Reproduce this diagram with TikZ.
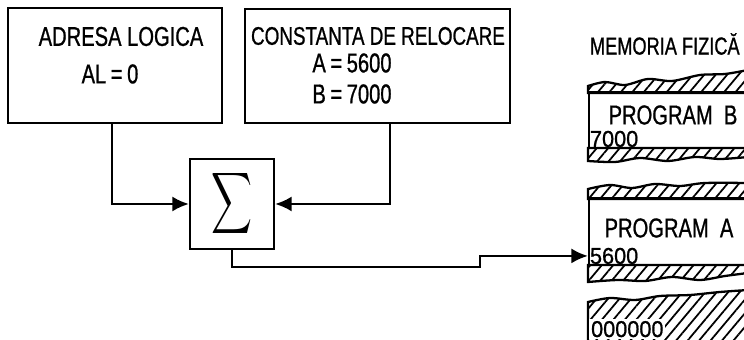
\documentclass[tikz,border=0pt]{standalone}
\usepackage{fontspec}
\usepackage{graphicx}
\setmainfont[FakeStretch=0.74,FakeBold=0.8]{Liberation Sans}
\newfontfamily\digitfont[FakeStretch=0.95,FakeBold=0.8]{Liberation Sans}
\usetikzlibrary{arrows.meta,patterns.meta}

\begin{document}
\begin{tikzpicture}[
  x=0.02cm, y=-0.02cm,
  box/.style={rectangle,draw,line width=1.3pt,inner sep=0pt},
  memblock/.style={rectangle,draw,line width=1.3pt,inner sep=0pt,minimum width=3.16cm},
  txt/.style={inner sep=0pt,font=\fontsize{15.5}{18}\selectfont},
  addr/.style={inner sep=1pt,font=\digitfont\fontsize{13}{15}\selectfont},
  hatch/.style={draw,line width=1.3pt,pattern={Lines[angle=50,distance=5pt,line width=1pt]}},
  arrow/.style={-{Latex[length=0.33cm,width=0.3cm]},line width=1.3pt}
]
\useasboundingbox (0,0) rectangle (744,340);

% ===== Input boxes =====
\node[box,minimum width=4.28cm,minimum height=2.3cm] (adresa) at (115,65.5) {};
\node[txt] (adresa_t) at (121,36.5) {ADRESA LOGICA};
\node[txt] (al) at (110,74) {AL\,=\,0};

\node[box,minimum width=5.3cm,minimum height=2.28cm] (reloc) at (377.5,66) {};
\node[txt,font=\fontsize{14.5}{17}\selectfont] (reloc_t) at (378,36) {CONSTANTA DE RELOCARE};
\node[txt] (const_a) at (352,63) {A\,=\,5600};
\node[txt] (const_b) at (352,94) {B\,=\,7000};

% Adder
\node[box,minimum width=1.68cm,minimum height=1.8cm] (sigma) at (232,204) {\resizebox{0.82cm}{0.9cm}{$\displaystyle\sum$}};

\draw[arrow] ([xshift=-0.06cm]adresa.south) |- (sigma.west);
\draw[arrow] ([xshift=0.25cm]reloc.south) |- (sigma.east);

% ===== Physical memory =====
\node[txt,font=\fontsize{14}{16}\selectfont,anchor=east] (mem_t) at (740,44) {MEMORIA FIZICĂ};

% Program B
\draw[hatch] (588,93) -- plot[smooth] coordinates {(588,86) (605,82) (625,85) (648,79) (672,81) (700,75) (725,74) (748,70)} -- (748,93) -- cycle;
\node[memblock,minimum height=1.12cm] (memB) at (668,120) {};
\node[txt] (progB) at (673,115) {PROGRAM\ \ B};
\node[addr,anchor=south west] (adrB) at (memB.south west) {7000};
\draw[hatch] (588,148) -- (748,148) -- plot[smooth] coordinates {(748,157) (720,159) (695,157) (668,161) (640,158) (615,162) (588,161)} -- cycle;

% Program A
\draw[hatch] (588,199) -- plot[smooth] coordinates {(588,189) (610,185) (632,188) (655,184) (680,186) (705,183) (748,183)} -- (748,199) -- cycle;
\node[memblock,minimum height=1.34cm] (memA) at (668,231.5) {};
\node[txt] (progA) at (669,228) {PROGRAM\ \ A};
\node[addr,anchor=south west] (adrA) at (memA.south west) {5600};
\draw[hatch] (588,265) -- (748,265) -- plot[smooth] coordinates {(748,273) (725,276) (700,280) (672,277) (645,281) (618,280) (588,282)} -- cycle;

% Bottom of memory
\draw[hatch] (588,342) -- plot[smooth] coordinates {(588,302) (610,298) (635,300) (660,296) (690,295) (720,292) (748,290)} -- (748,342) -- cycle;
\node[addr,fill=white,anchor=base west] (adr0) at (589,337) {000000};

% Output of the adder
\draw[arrow] (sigma.south) |- (480,267) |- (adrA.west);

\end{tikzpicture}
\end{document}
